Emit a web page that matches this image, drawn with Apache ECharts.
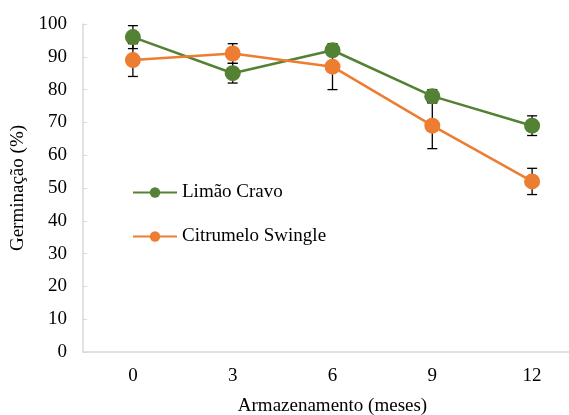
<!DOCTYPE html>
<html>
<head>
<meta charset="utf-8">
<script src="https://cdn.jsdelivr.net/npm/echarts@6/dist/echarts.min.js"></script>
<style>
  html, body { margin: 0; padding: 0; background: #fff; }
  #chart { width: 569px; height: 415px; }
</style>
</head>
<body>
<div id="chart"></div>
<script>
const months = ['0', '3', '6', '9', '12']
const yTicks = [0, 10, 20, 30, 40, 50, 60, 70, 80, 90, 100]

const limaoCravo = [96, 85, 92, 78, 69]
const limaoCravoErr = [3.5, 3, 1.5, 2, 3]
const citrumelo = [89, 91, 87, 69, 52]
const citrumeloErr = [5, 3, 7, 7, 4]

const FONT = '"Liberation Serif", "Times New Roman", serif'

// error bars drawn through the chart's own coordinate system
const errorBars = (values, errs) => ({
  type: 'custom',
  z: 1,
  silent: true,
  data: values.map((v, i) => [i, v - errs[i], v + errs[i]]),
  renderItem: (params, api) => {
    const lo = api.coord([api.value(0), api.value(1)])
    const hi = api.coord([api.value(0), api.value(2)])
    const w = 5
    const style = { stroke: '#000', lineWidth: 1.3 }
    return {
      type: 'group',
      children: [
        { type: 'line', shape: { x1: lo[0], y1: lo[1], x2: hi[0], y2: hi[1] }, style },
        { type: 'line', shape: { x1: lo[0] - w, y1: lo[1], x2: lo[0] + w, y2: lo[1] }, style },
        { type: 'line', shape: { x1: hi[0] - w, y1: hi[1], x2: hi[0] + w, y2: hi[1] }, style }
      ]
    }
  }
})

const chart = echarts.init(document.getElementById('chart'))

chart.setOption({
  animation: false,
  textStyle: { fontFamily: FONT },
  grid: { left: 83, top: 24, right: -13, height: 328, outerBoundsMode: 'none', containLabel: false },
  legend: {
    orient: 'vertical',
    left: 127,
    top: 178,
    itemWidth: 44,
    itemHeight: 13,
    itemGap: 25,
    textStyle: { fontFamily: FONT, fontSize: 19, color: '#000' },
    data: ['Limão Cravo', 'Citrumelo Swingle']
  },
  xAxis: {
    type: 'category',
    data: months,
    boundaryGap: true,
    name: 'Armazenamento (meses)',
    nameLocation: 'middle',
    nameGap: 45,
    nameTextStyle: { fontFamily: FONT, fontSize: 19, color: '#000' },
    axisLine: { lineStyle: { color: '#d9d9d9', width: 1.5 } },
    axisTick: { show: false },
    axisLabel: { fontFamily: FONT, fontSize: 19, color: '#000', margin: 15 }
  },
  yAxis: {
    type: 'value',
    min: yTicks[0],
    max: yTicks[yTicks.length - 1],
    interval: 10,
    name: 'Germinação (%)',
    nameLocation: 'middle',
    nameGap: 51,
    nameTextStyle: { fontFamily: FONT, fontSize: 19, color: '#000' },
    axisLine: { show: true, lineStyle: { color: '#d9d9d9', width: 1.5 } },
    axisTick: { show: true, inside: true, length: 4, lineStyle: { color: '#d9d9d9' } },
    splitLine: { show: false },
    axisLabel: { fontFamily: FONT, fontSize: 19, color: '#000', margin: 16 }
  },
  series: [
    errorBars(limaoCravo, limaoCravoErr),
    errorBars(citrumelo, citrumeloErr),
    {
      name: 'Limão Cravo',
      type: 'line',
      z: 3,
      data: limaoCravo,
      symbol: 'circle',
      symbolSize: 16,
      lineStyle: { color: '#548235', width: 2.5 },
      itemStyle: { color: '#548235' }
    },
    {
      name: 'Citrumelo Swingle',
      type: 'line',
      z: 4,
      data: citrumelo,
      symbol: 'circle',
      symbolSize: 16,
      lineStyle: { color: '#ED7D31', width: 2.5 },
      itemStyle: { color: '#ED7D31' }
    }
  ]
})
</script>
</body>
</html>
